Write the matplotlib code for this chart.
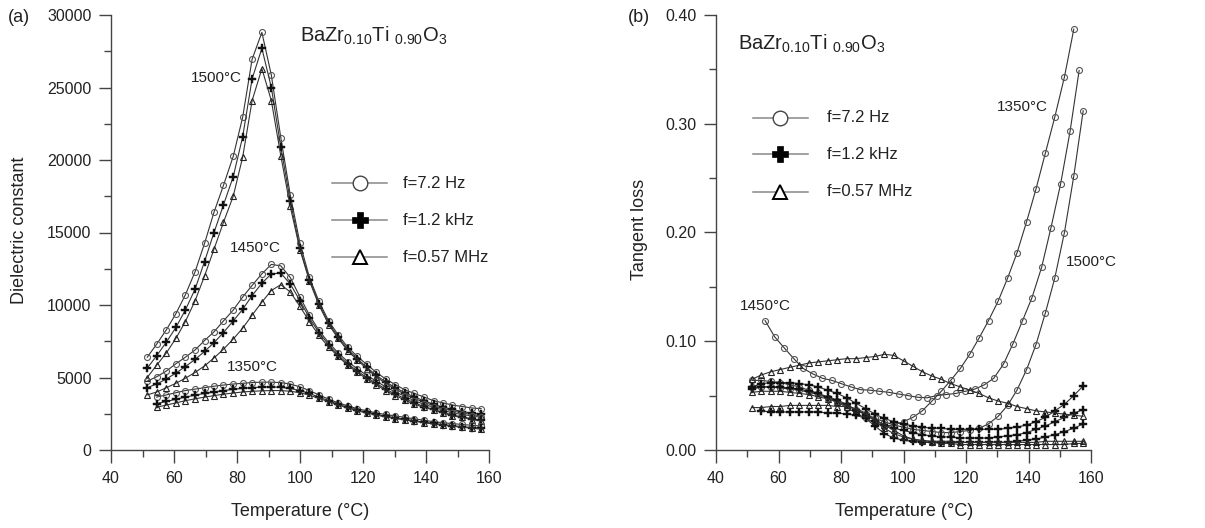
import matplotlib
matplotlib.use("Agg")
import matplotlib.pyplot as plt
from matplotlib.ticker import MultipleLocator, FormatStrFormatter

plt.rcParams['font.family'] = ['Liberation Sans', 'DejaVu Sans']
plt.rcParams['mathtext.fontset'] = 'custom'
plt.rcParams['mathtext.rm'] = 'Liberation Sans'
plt.rcParams['mathtext.it'] = 'Liberation Sans:italic'

# ---------------- data ----------------
# temperature grid (deg C)
temps = [51.5, 54.5, 57.6, 60.6, 63.6, 66.7, 69.7, 72.7, 75.7, 78.8, 81.8, 84.8,
         87.9, 90.9, 93.9, 96.9, 100.0, 103.0, 106.0, 109.1, 112.1, 115.1, 118.2,
         121.2, 124.2, 127.2, 130.3, 133.3, 136.3, 139.4, 142.4, 145.4, 148.4,
         151.5, 154.5, 157.5]
temps_1450_loss = [55.7, 58.8, 61.8, 64.9, 67.9, 71.0, 74.0, 77.1, 80.1, 83.2, 86.2,
                   89.3, 92.3, 95.4, 98.4, 101.5, 104.5, 107.6, 110.6, 113.7, 116.7,
                   119.8, 122.8, 125.9, 128.9, 132.0, 135.0, 138.1, 141.1, 144.2,
                   147.2, 150.3, 153.3, 156.2]

# (a) dielectric constant
eps_1500_72Hz = [6400, 7300, 8300, 9400, 10700, 12300, 14250, 16400, 18250, 20250, 22950, 26950,
                 28800, 25850, 21550, 17600, 14250, 11900, 10250, 8900, 7950, 7100, 6450,
                 5900, 5350, 4900, 4500, 4150, 3900, 3650, 3400, 3250, 3100, 3000, 2900, 2850]
eps_1500_12kHz = [5650, 6500, 7450, 8450, 9650, 11100, 13000, 15000, 16900, 18850, 21600, 25600,
                  27700, 25000, 20900, 17200, 13900, 11750, 10100, 8750, 7800, 6950, 6300,
                  5700, 5150, 4700, 4300, 3950, 3650, 3400, 3150, 2950, 2800, 2650, 2550, 2450]
eps_1500_057MHz = [5000, 5850, 6700, 7700, 8850, 10300, 12000, 13850, 15700, 17500, 20200, 24100,
                   26300, 24100, 20300, 16800, 13800, 11650, 10000, 8650, 7700, 6850, 6200,
                   5600, 5050, 4600, 4200, 3850, 3550, 3300, 3050, 2850, 2700, 2550, 2450, 2350]
eps_1450_72Hz = [4750, 5050, 5450, 5950, 6400, 6900, 7550, 8150, 8900, 9650, 10550, 11350,
                 12150, 12800, 12700, 11900, 10550, 9300, 8250, 7400, 6700, 6100, 5600,
                 5150, 4750, 4350, 4000, 3700, 3400, 3150, 2950, 2750, 2550, 2450, 2350, 2250]
eps_1450_12kHz = [4300, 4550, 4900, 5300, 5750, 6250, 6800, 7400, 8100, 8900, 9700, 10650,
                  11500, 12150, 12200, 11450, 10300, 9100, 8100, 7250, 6550, 5950, 5450,
                  5000, 4600, 4200, 3850, 3550, 3250, 3000, 2800, 2600, 2400, 2300, 2150, 2050]
eps_1450_057MHz = [3800, 4000, 4300, 4600, 4950, 5350, 5800, 6350, 6950, 7650, 8400, 9300,
                   10200, 11000, 11400, 10900, 9900, 8850, 7900, 7100, 6450, 5850, 5350,
                   4900, 4500, 4100, 3750, 3450, 3150, 2950, 2750, 2550, 2350, 2250, 2100, 2000]
# 1350 C data start one step later (temps[1:])
eps_1350_72Hz = [3650, 3800, 3950, 4100, 4200, 4300, 4400, 4480, 4550, 4600, 4650,
                 4680, 4680, 4650, 4550, 4350, 4100, 3800, 3500, 3250, 3050, 2850,
                 2700, 2550, 2450, 2350, 2250, 2150, 2050, 1950, 1880, 1820, 1760, 1700, 1650]
eps_1350_12kHz = [3200, 3350, 3500, 3650, 3780, 3900, 4000, 4100, 4180, 4250, 4300,
                  4340, 4350, 4320, 4250, 4100, 3900, 3650, 3400, 3150, 2950, 2750,
                  2600, 2450, 2330, 2220, 2120, 2020, 1920, 1830, 1750, 1680, 1610, 1550, 1500]
eps_1350_057MHz = [2950, 3100, 3250, 3400, 3530, 3650, 3750, 3850, 3930, 4000, 4050,
                   4080, 4100, 4100, 4050, 3950, 3780, 3560, 3330, 3100, 2900, 2700,
                   2550, 2400, 2280, 2170, 2070, 1980, 1880, 1790, 1710, 1640, 1570, 1510, 1450]

# (b) tangent loss
# 1350 C, 7.2 Hz uses temps[:-1]
tan_1350_72Hz = [0.064, 0.064, 0.063, 0.062, 0.060, 0.058, 0.055, 0.052, 0.048, 0.044, 0.039,
                 0.034, 0.029, 0.025, 0.022, 0.023, 0.026, 0.030, 0.036, 0.045, 0.054, 0.064,
                 0.075, 0.088, 0.103, 0.119, 0.137, 0.158, 0.181, 0.210, 0.240, 0.273,
                 0.306, 0.343, 0.387]
tan_1450_72Hz = [0.119, 0.104, 0.094, 0.084, 0.075, 0.070, 0.066, 0.064, 0.061, 0.058, 0.0555,
                 0.055, 0.054, 0.053, 0.0515, 0.050, 0.0485, 0.048, 0.050, 0.051, 0.052,
                 0.054, 0.056, 0.060, 0.066, 0.079, 0.0975, 0.119, 0.140, 0.168, 0.2045,
                 0.245, 0.293, 0.349]
tan_1500_72Hz = [0.058, 0.058, 0.058, 0.057, 0.056, 0.055, 0.053, 0.051, 0.048, 0.045, 0.041,
                 0.037, 0.033, 0.029, 0.026, 0.023, 0.021, 0.019, 0.018, 0.017, 0.016, 0.016,
                 0.017, 0.018, 0.020, 0.024, 0.031, 0.041, 0.055, 0.074, 0.097, 0.126,
                 0.158, 0.200, 0.252, 0.312]
tan_a_12kHz = [0.058, 0.061, 0.062, 0.062, 0.062, 0.061, 0.060, 0.058, 0.055, 0.052, 0.048,
               0.043, 0.038, 0.033, 0.029, 0.026, 0.024, 0.022, 0.021, 0.020, 0.020, 0.019,
               0.019, 0.019, 0.019, 0.019, 0.019, 0.020, 0.021, 0.023, 0.026, 0.030,
               0.036, 0.042, 0.050, 0.059]
tan_b_12kHz = [0.056, 0.058, 0.058, 0.058, 0.057, 0.056, 0.054, 0.052, 0.049, 0.046, 0.042,
               0.037, 0.032, 0.027, 0.023, 0.020, 0.018, 0.016, 0.014, 0.013, 0.012, 0.012,
               0.011, 0.011, 0.011, 0.011, 0.012, 0.013, 0.014, 0.016, 0.019, 0.022,
               0.026, 0.030, 0.034, 0.037]
# uses temps[1:]
tan_c_12kHz = [0.036, 0.035, 0.035, 0.035, 0.035, 0.035, 0.035, 0.034, 0.034, 0.033, 0.032,
               0.029, 0.022, 0.015, 0.011, 0.009, 0.008, 0.007, 0.007, 0.007, 0.007,
               0.007, 0.007, 0.007, 0.007, 0.007, 0.007, 0.008, 0.009, 0.010, 0.012,
               0.014, 0.017, 0.020, 0.024]
tan_a_057MHz = [0.065, 0.069, 0.072, 0.074, 0.076, 0.078, 0.080, 0.081, 0.082, 0.083, 0.084,
                0.084, 0.085, 0.086, 0.088, 0.087, 0.082, 0.077, 0.072, 0.068, 0.065, 0.061,
                0.058, 0.055, 0.052, 0.048, 0.045, 0.043, 0.040, 0.038, 0.036, 0.035,
                0.034, 0.033, 0.032, 0.031]
tan_b_057MHz = [0.053, 0.054, 0.054, 0.054, 0.053, 0.052, 0.051, 0.049, 0.047, 0.044, 0.041,
                0.037, 0.033, 0.028, 0.023, 0.018, 0.013, 0.010, 0.008, 0.007, 0.006, 0.006,
                0.005, 0.005, 0.005, 0.005, 0.005, 0.005, 0.005, 0.005, 0.005, 0.005,
                0.005, 0.005, 0.006, 0.006]
tan_c_057MHz = [0.039, 0.039, 0.040, 0.040, 0.041, 0.041, 0.041, 0.041, 0.041, 0.040, 0.040,
                0.038, 0.034, 0.027, 0.020, 0.015, 0.012, 0.010, 0.009, 0.008, 0.008, 0.008,
                0.007, 0.007, 0.007, 0.007, 0.007, 0.007, 0.007, 0.007, 0.007, 0.008,
                0.008, 0.008, 0.008, 0.008]

legend_labels = ["f=7.2 Hz", "f=1.2 kHz", "f=0.57 MHz"]
xticks = [40, 60, 80, 100, 120, 140, 160]

# ---------------- styles ----------------
W, H = 1205, 528
LINE = '#333333'
STY = {
    'o': dict(marker='o', ms=4.3, mfc='none', mec='#555555', mew=0.8),
    'P': dict(marker='P', ms=5.6, mfc='#111111', mec='#111111', mew=0.3),
    '^': dict(marker='^', ms=4.6, mfc='none', mec='#222222', mew=0.8),
}

fig = plt.figure(figsize=(W / 100, H / 100), dpi=100)


def px(x, y):
    return x / W, 1 - y / H


ax1 = fig.add_axes([111 / W, 1 - 450 / H, 378 / W, 435 / H])
ax2 = fig.add_axes([716 / W, 1 - 450 / H, 375 / W, 435 / H])


def style(ax, ymax, ymajor, yminor, fmt):
    for s in ['top', 'right']:
        ax.spines[s].set_visible(False)
    for s in ['left', 'bottom']:
        ax.spines[s].set_linewidth(1.0)
        ax.spines[s].set_color('#444444')
    ax.set_xlim(40, 160)
    ax.set_ylim(0, ymax)
    ax.set_xticks(xticks)
    ax.xaxis.set_minor_locator(MultipleLocator(10))
    ax.yaxis.set_major_locator(MultipleLocator(ymajor))
    ax.yaxis.set_minor_locator(MultipleLocator(yminor))
    ax.yaxis.set_major_formatter(FormatStrFormatter(fmt))
    ax.tick_params(which='major', direction='out', length=9, width=1.0,
                   color='#444444', labelsize=11.5, labelcolor='#222222')
    ax.tick_params(which='minor', direction='out', length=5, width=1.0, color='#444444')
    ax.tick_params(axis='x', which='major', pad=6)
    ax.tick_params(axis='y', which='major', pad=5)


style(ax1, 30000, 5000, 2500, '%d')
style(ax2, 0.40, 0.10, 0.05, '%.2f')


def series(ax, x, y, m):
    ax.plot(x, y, color=LINE, lw=0.8, clip_on=False, **STY[m])


# panel (a)
series(ax1, temps, eps_1500_72Hz, 'o')
series(ax1, temps, eps_1500_12kHz, 'P')
series(ax1, temps, eps_1500_057MHz, '^')
series(ax1, temps, eps_1450_72Hz, 'o')
series(ax1, temps, eps_1450_12kHz, 'P')
series(ax1, temps, eps_1450_057MHz, '^')
series(ax1, temps[1:], eps_1350_72Hz, 'o')
series(ax1, temps[1:], eps_1350_12kHz, 'P')
series(ax1, temps[1:], eps_1350_057MHz, '^')

# panel (b)
series(ax2, temps[:-1], tan_1350_72Hz, 'o')
series(ax2, temps_1450_loss, tan_1450_72Hz, 'o')
series(ax2, temps, tan_1500_72Hz, 'o')
series(ax2, temps, tan_a_12kHz, 'P')
series(ax2, temps, tan_b_12kHz, 'P')
series(ax2, temps[1:], tan_c_12kHz, 'P')
series(ax2, temps, tan_a_057MHz, '^')
series(ax2, temps, tan_b_057MHz, '^')
series(ax2, temps, tan_c_057MHz, '^')

# axis labels
fig.text(*px(300, 512), "Temperature (°C)", ha='center', va='center', fontsize=13, color='#222222')
fig.text(*px(904, 512), "Temperature (°C)", ha='center', va='center', fontsize=13, color='#222222')
fig.text(*px(20, 230), "Dielectric constant", ha='center', va='center', rotation=90,
         fontsize=13, color='#222222')
fig.text(*px(640, 229), "Tangent loss", ha='center', va='center', rotation=90,
         fontsize=13, color='#222222')
fig.text(*px(19, 17), "(a)", ha='center', va='center', fontsize=13, color='#222222')
fig.text(*px(639, 17), "(b)", ha='center', va='center', fontsize=13, color='#222222')

formula = r"BaZr$_{\mathrm{0.10}}$Ti $_{\mathrm{0.90}}$O$_{\mathrm{3}}$"
fig.text(*px(300, 42), formula, ha='left', va='baseline', fontsize=14.5, color='#222222')
fig.text(*px(738, 50), formula, ha='left', va='baseline', fontsize=14.5, color='#222222')

# sintering temperature annotations
for (x, y, s) in [(216, 78, "1500°C"), (255, 248, "1450°C"), (252, 367, "1350°C"),
                  (1022, 107, "1350°C"), (1091, 262, "1500°C"), (765, 306, "1450°C")]:
    fig.text(*px(x, y), s, ha='center', va='center', fontsize=11, color='#222222')

# legends (drawn manually)
LEG = {
    'o': dict(marker='o', ms=10.5, mfc='white', mec='#444444', mew=1.0),
    'P': dict(marker='P', ms=12, mfc='black', mec='black', mew=0.5),
    '^': dict(marker='^', ms=10.5, mfc='white', mec='black', mew=1.4),
}


def legend(x0, x1, xt, rows):
    for (y, m, lab) in zip(rows, ['o', 'P', '^'], legend_labels):
        fx0, fy = px(x0, y)
        fx1, _ = px(x1, y)
        fig.add_artist(plt.Line2D([fx0, fx1], [fy, fy], color='#888888', lw=1.1,
                                  transform=fig.transFigure))
        fig.add_artist(plt.Line2D([(fx0 + fx1) / 2], [fy], color='none',
                                  transform=fig.transFigure, **LEG[m]))
        fig.text(*px(xt, y), lab, ha='left', va='center', fontsize=12, color='#222222')


legend(332, 387, 403, [183, 220, 257])
legend(753, 808, 827, [118, 154, 192])

fig.savefig("out.png", dpi=100)
